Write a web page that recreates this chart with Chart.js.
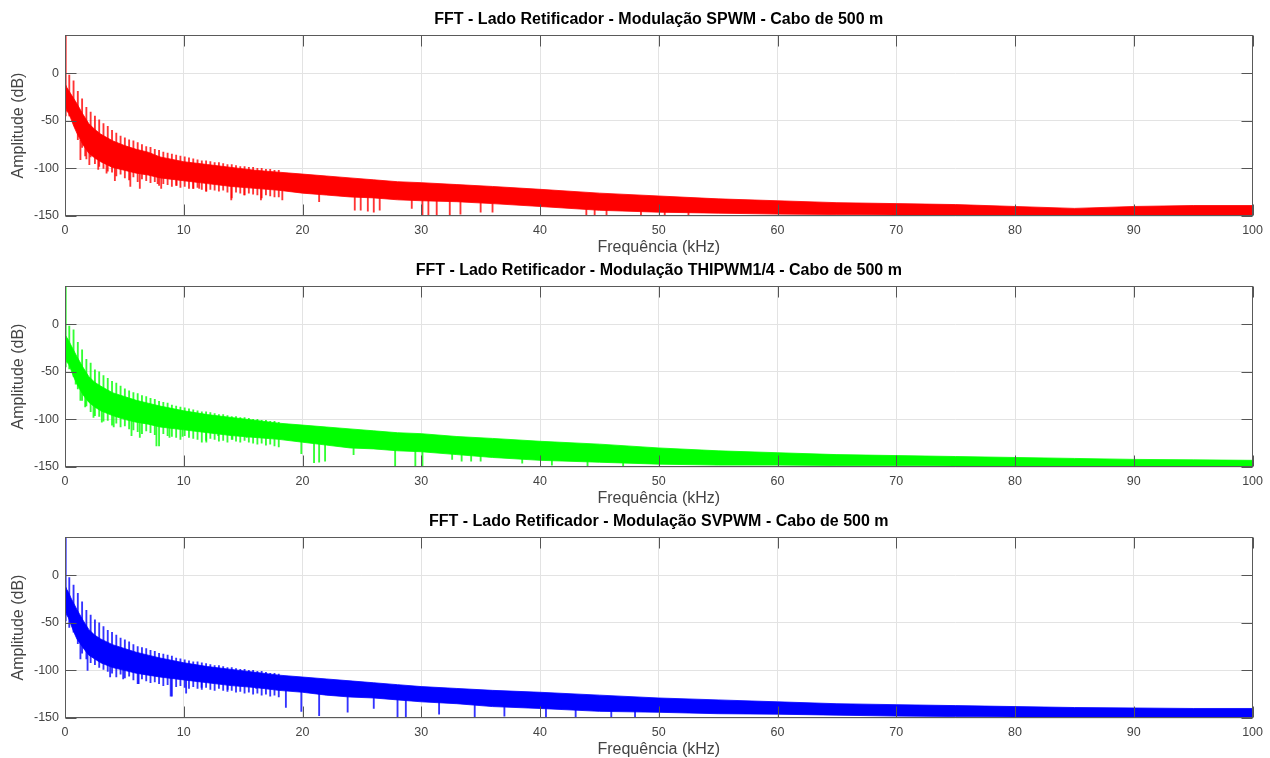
<!DOCTYPE html>
<html>
<head>
<meta charset="utf-8">
<script src="https://cdn.jsdelivr.net/npm/chart.js@4.4.1/dist/chart.umd.min.js"></script>
<style>
  html, body { margin: 0; padding: 0; background: #fff; width: 1270px; height: 758px; overflow: hidden; }
  .panel { position: absolute; left: 0; width: 1270px; height: 258px; }
  .panel canvas { display: block; }
</style>
</head>
<body>
<div class="panel" style="top:0px"><canvas id="fftSpwm" width="1270" height="258"></canvas></div>
<div class="panel" style="top:251px"><canvas id="fftThipwm" width="1270" height="258"></canvas></div>
<div class="panel" style="top:502px"><canvas id="fftSvpwm" width="1270" height="258"></canvas></div>
<script>
// ---- axis ticks ----
const xTicks = [0, 10, 20, 30, 40, 50, 60, 70, 80, 90, 100];
const yTicks = [-150, -100, -50, 0];

// ---- frequency grid (kHz) for the dense part of each spectrum ----
const bandFreq = [0.05, 0.15, 0.3, 0.5, 0.75, 1, 1.5, 2, 2.5, 3, 4, 5, 6, 7, 8, 10, 12, 14, 16, 18, 20,
                  22, 24, 26, 28, 30, 33, 36, 40, 45, 50, 55, 60, 65, 70, 75, 80, 85, 90, 95, 100];

// ---- harmonic frequencies (kHz): fundamental and the 6k-pulse harmonics ----
const harmFreq = [0.06, 0.36, 0.72, 1.08, 1.44, 1.8, 2.16, 2.52, 2.88, 3.24, 3.6, 3.96, 4.32, 4.68, 5.04,
                  5.4, 5.76, 6.12, 6.48, 6.84, 7.2, 7.56, 7.92, 8.28, 8.64, 9.0, 9.36, 9.72, 10.08, 10.44,
                  10.8, 11.16, 11.52, 11.88, 12.24, 12.6, 12.96, 13.32, 13.68, 14.04, 14.4, 14.76, 15.12,
                  15.48, 15.84, 16.2, 16.56, 16.92, 17.28, 17.64, 18.0];

// ---- SPWM (dB) ----
const spwmBandTop = [-12, -15, -18, -22, -27, -32, -43, -53, -59, -64, -71, -76, -80, -83, -88, -93, -96, -99, -102, -104, -106,
                     -108, -110, -112, -114, -115, -117, -119, -122, -126, -129, -132, -134, -136, -137, -138, -140, -142, -140, -139, -139];
const spwmBandBottom = [-35, -40, -42, -48, -56, -63, -75, -84, -89, -93, -99, -102, -105, -107, -110, -113, -116, -119, -121, -123, -126,
                        -128, -130, -131, -133, -134, -135, -137, -140, -144, -146, -147, -148, -148.5, -149, -149, -149, -149, -149, -149, -149];
const spwmHarmTop = [40, -2, -8, -19, -27, -36, -41, -45, -49, -53, -56, -60, -63, -66, -68, -70, -71, -73, -75, -77, -78,
                     -80, -81, -83, -84, -85, -86, -87, -88, -89, -90, -91, -92, -92, -93, -94, -94, -95, -96, -96, -97,
                     -98, -98, -99, -99, -100, -100, -101, -101, -102, -102];
const spwmHarmLow = [-45, -45, -52, -70, -78, -90, -88, -95, -98, -100, -103, -104, -108, -106, -110, -112, -109, -114, -111, -113, -115,
                     -114, -118, -116, -117, -119, -118, -120, -119, -121, -121, -120, -122, -124, -122, -123, -124, -123, -125, -131, -125,
                     -126, -128, -126, -127, -128, -131, -128, -129, -130, -130];
const spwmDipFreq = [1.3, 1.7, 2.05, 2.8, 3.5, 4.2, 5.5, 6.3, 7.8, 8.1, 9.4, 10.8, 11.3, 11.9, 14.0, 15.1, 16.5, 18.3, 21.4,
                     24.4, 24.9, 25.5, 26.0, 26.5, 29.2, 30.1, 30.6, 31.3, 32.4, 33.3, 35.0, 36.0, 43.9, 44.6, 45.6, 48.5, 50.5, 52.5];
const spwmDipLow = [-91, -87, -96, -101, -105, -113, -119, -121, -116, -121, -118, -121, -121, -124, -133, -128, -133, -133, -135,
                    -144, -144, -145, -146, -144, -142, -150, -150, -150, -149, -148, -146, -146, -150, -150, -150, -149, -150, -149];
const spwmDipHigh = [-70, -72, -78, -85, -90, -92, -96, -98, -102, -102, -106, -108, -108, -110, -112, -114, -116, -118, -122,
                     -124, -124, -125, -125, -126, -128, -129, -129, -130, -131, -132, -133, -134, -137, -137, -138, -140, -141, -142];

// ---- THIPWM 1/4 (dB) ----
const thiBandTop = [-12, -14, -17, -22, -28, -34, -45, -55, -61, -65, -72, -76, -80, -83, -86, -91, -95, -98, -101, -104, -106,
                    -108, -110, -112, -114, -115, -118, -120, -123, -126, -130, -133, -135, -137, -138, -139, -140, -141, -142, -142.5, -143];
const thiBandBottom = [-35, -40, -42, -48, -56, -63, -74, -82, -87, -91, -96, -100, -103, -105, -108, -111, -114, -117, -119, -121, -124,
                       -127, -130, -131, -133, -134, -137, -140, -143, -145, -147, -148, -148, -148.5, -148.5, -149, -149, -149, -149, -149, -149];
const thiHarmTop = [40, -2, -6, -19, -27, -37, -41, -48, -50, -54, -57, -60, -62, -65, -68, -70, -72, -73, -75, -76, -78,
                    -79, -81, -82, -83, -85, -86, -87, -88, -89, -90, -91, -92, -92, -93, -94, -95, -95, -96, -97, -97,
                    -98, -98, -99, -100, -100, -101, -101, -102, -102, -103];
const thiHarmLow = [-45, -47, -55, -68, -80, -86, -92, -96, -97, -102, -101, -106, -104, -108, -107, -110, -111, -113, -115, -112, -114,
                    -116, -128, -115, -117, -118, -119, -121, -117, -119, -120, -121, -124, -122, -120, -121, -123, -122, -124, -121, -123,
                    -124, -122, -124, -125, -126, -125, -127, -126, -128, -129];
const thiDipFreq = [0.9, 1.3, 1.7, 2.4, 3.1, 4.1, 5.6, 6.3, 7.7, 8.8, 9.9, 11.9, 12.9, 14.1, 15.3, 19.9, 20.97, 21.4, 21.9,
                    24.3, 27.8, 29.5, 30.1, 32.6, 33.4, 34.2, 35.0, 38.5, 41.0, 44.0, 47.0];
const thiDipLow = [-63, -80, -87, -98, -103, -108, -117, -119, -128, -119, -118, -124, -117, -121, -119, -136, -145.5, -145, -144,
                   -137, -150, -150, -149, -142, -144, -144, -144, -146, -148, -149, -149.5];
const thiDipHigh = [-50, -60, -68, -78, -84, -88, -94, -96, -100, -104, -106, -108, -110, -112, -114, -120, -122, -122, -123,
                    -126, -128, -130, -130, -132, -133, -134, -135, -138, -140, -142, -143];

// ---- SVPWM (dB) ----
const svBandTop = [-12, -15, -18, -24, -30, -36, -47, -57, -63, -67, -73, -77, -81, -84, -87, -92, -96, -99, -102, -105, -107,
                   -109, -111, -113, -115, -117, -119, -121, -123, -126, -129, -131, -133, -135, -136, -137, -138, -139, -139.5, -140, -140];
const svBandBottom = [-38, -42, -45, -52, -60, -67, -76, -84, -88, -92, -97, -100, -103, -105, -107, -110, -113, -116, -118, -121, -123,
                      -126, -128, -129, -131, -133, -135, -138, -140, -143, -144, -145.5, -146, -147, -148, -148.5, -149, -149, -149, -149, -149];
const svHarmTop = [40, -2.5, -10.5, -19, -28, -37, -42, -47, -50, -54, -58, -60, -63, -66, -68, -70, -73, -75, -76, -77, -79,
                   -80, -82, -83, -84, -85, -87, -88, -89, -90, -91, -91, -92, -93, -94, -95, -95, -96, -97, -97, -98,
                   -99, -99, -100, -100, -101, -101, -102, -103, -103, -104];
const svHarmLow = [-48, -55, -60, -72, -82, -88, -92, -94, -97, -99, -101, -103, -107, -104, -108, -106, -110, -114, -109, -111, -113,
                   -112, -114, -116, -115, -127, -117, -116, -118, -119, -117, -119, -120, -118, -120, -121, -119, -121, -122, -121, -123,
                   -122, -124, -123, -125, -124, -126, -125, -127, -126, -128];
const svDipFreq = [1.3, 1.9, 3.8, 4.9, 6.2, 8.9, 10.2, 11.5, 13.7, 16.1, 18.6, 19.9, 21.4, 23.8, 26.0, 28.0, 28.7, 31.5,
                   34.5, 37.0, 40.5, 43.0, 46.0, 48.0];
const svDipLow = [-88, -100, -107, -109, -114, -127, -124, -118, -120, -119, -139, -143, -147.5, -144, -140, -150, -150, -146,
                  -149, -148, -150, -150, -149, -150];
const svDipHigh = [-70, -80, -90, -94, -98, -104, -106, -108, -110, -112, -116, -118, -120, -122, -124, -126, -126, -128,
                   -130, -132, -134, -136, -137, -138];

// ---- panel titles ----
const titles = [
  'FFT - Lado Retificador - Modulação SPWM - Cabo de 500 m',
  'FFT - Lado Retificador - Modulação THIPWM1/4 - Cabo de 500 m',
  'FFT - Lado Retificador - Modulação SVPWM - Cabo de 500 m'
];
const xLabel = 'Frequência (kHz)';
const yLabel = 'Amplitude (dB)';

const FONT = "'Liberation Sans', Arial, Helvetica, sans-serif";
const AXIS_COLOR = '#444';

// Box around the plot with inward tick marks on all four sides
const boxAxes = {
  id: 'boxAxes',
  afterDatasetsDraw(chart) {
    const { ctx, chartArea: a, scales: { x, y } } = chart;
    const L = Math.round(a.left) + 0.5, R = Math.round(a.right) - 0.5;
    const T = Math.round(a.top) + 0.5, B = Math.round(a.bottom) - 0.5;
    const len = 11;
    ctx.save();
    ctx.strokeStyle = '#555';
    ctx.lineWidth = 1;
    ctx.beginPath();
    xTicks.forEach(v => {
      const px = Math.round(x.getPixelForValue(v)) + 0.5;
      ctx.moveTo(px, B); ctx.lineTo(px, B - len);
      ctx.moveTo(px, T); ctx.lineTo(px, T + len);
    });
    yTicks.forEach(v => {
      const py = Math.round(y.getPixelForValue(v)) + 0.5;
      ctx.moveTo(L, py); ctx.lineTo(L + len, py);
      ctx.moveTo(R, py); ctx.lineTo(R - len, py);
    });
    ctx.stroke();
    ctx.strokeStyle = '#5a5a5a';
    ctx.strokeRect(L, T, R - L, B - T);
    ctx.restore();
  }
};

function makeChart(id, title, rgb, bandTop, bandBottom, harmTop, harmLow, dipFreq, dipLow, dipHigh) {
  const solid = `rgb(${rgb})`;
  const line = `rgba(${rgb},0.8)`;
  const top = bandFreq.map((f, i) => ({ x: f, y: bandTop[i] }));
  const bottom = bandFreq.map((f, i) => ({ x: f, y: bandBottom[i] }));
  const harm = harmFreq.map((f, i) => ({ x: f, y: [harmLow[i], harmTop[i]] }));
  const dips = dipFreq.map((f, i) => ({ x: f, y: [dipLow[i], dipHigh[i]] }));

  return new Chart(document.getElementById(id), {
    type: 'line',
    data: {
      datasets: [
        { type: 'line', data: top, borderColor: line, backgroundColor: solid, borderWidth: 1,
          pointRadius: 0, tension: 0, fill: '+1', order: 3 },
        { type: 'line', data: bottom, borderColor: line, borderWidth: 1,
          pointRadius: 0, tension: 0, fill: false, order: 3 },
        { type: 'bar', data: harm, backgroundColor: line, barThickness: 1.2, grouped: false, order: 1 },
        { type: 'bar', data: dips, backgroundColor: line, barThickness: 1.2, grouped: false, order: 2 }
      ]
    },
    options: {
      responsive: false,
      animation: false,
      events: [],
      layout: { padding: { left: 0, right: 13, top: 0, bottom: 0 } },
      plugins: {
        legend: { display: false },
        tooltip: { enabled: false },
        title: {
          display: true, text: title, color: '#000', fullSize: false,
          font: { family: FONT, size: 16, weight: 'bold' },
          padding: { top: 10.4, bottom: 5.4 }
        }
      },
      scales: {
        x: {
          type: 'linear', min: 0, max: 100, offset: false,
          afterBuildTicks: s => { s.ticks = xTicks.map(v => ({ value: v })); },
          afterFit: s => { s.height = 42; },
          grid: { color: '#e3e3e3', lineWidth: 1, drawTicks: false, offset: false },
          border: { display: false },
          ticks: { color: AXIS_COLOR, padding: 7, maxRotation: 0, font: { family: FONT, size: 12.5 } },
          title: { display: true, text: xLabel, color: AXIS_COLOR, font: { family: FONT, size: 16 },
                   padding: { top: 0, bottom: 0.4 } }
        },
        y: {
          type: 'linear', min: -150, max: 40,
          afterBuildTicks: s => { s.ticks = yTicks.map(v => ({ value: v })); },
          afterFit: s => { s.width = 65; },
          grid: { color: '#e3e3e3', lineWidth: 1, drawTicks: false },
          border: { display: false },
          ticks: { color: AXIS_COLOR, padding: 6, font: { family: FONT, size: 12.5 } },
          title: { display: true, text: yLabel, color: AXIS_COLOR, font: { family: FONT, size: 16 },
                   padding: { top: 9.4, bottom: 0 } }
        }
      }
    },
    plugins: [boxAxes]
  });
}

makeChart('fftSpwm', titles[0], '255,0,0', spwmBandTop, spwmBandBottom, spwmHarmTop, spwmHarmLow,
          spwmDipFreq, spwmDipLow, spwmDipHigh);
makeChart('fftThipwm', titles[1], '0,255,0', thiBandTop, thiBandBottom, thiHarmTop, thiHarmLow,
          thiDipFreq, thiDipLow, thiDipHigh);
makeChart('fftSvpwm', titles[2], '0,0,255', svBandTop, svBandBottom, svHarmTop, svHarmLow,
          svDipFreq, svDipLow, svDipHigh);
</script>
</body>
</html>
